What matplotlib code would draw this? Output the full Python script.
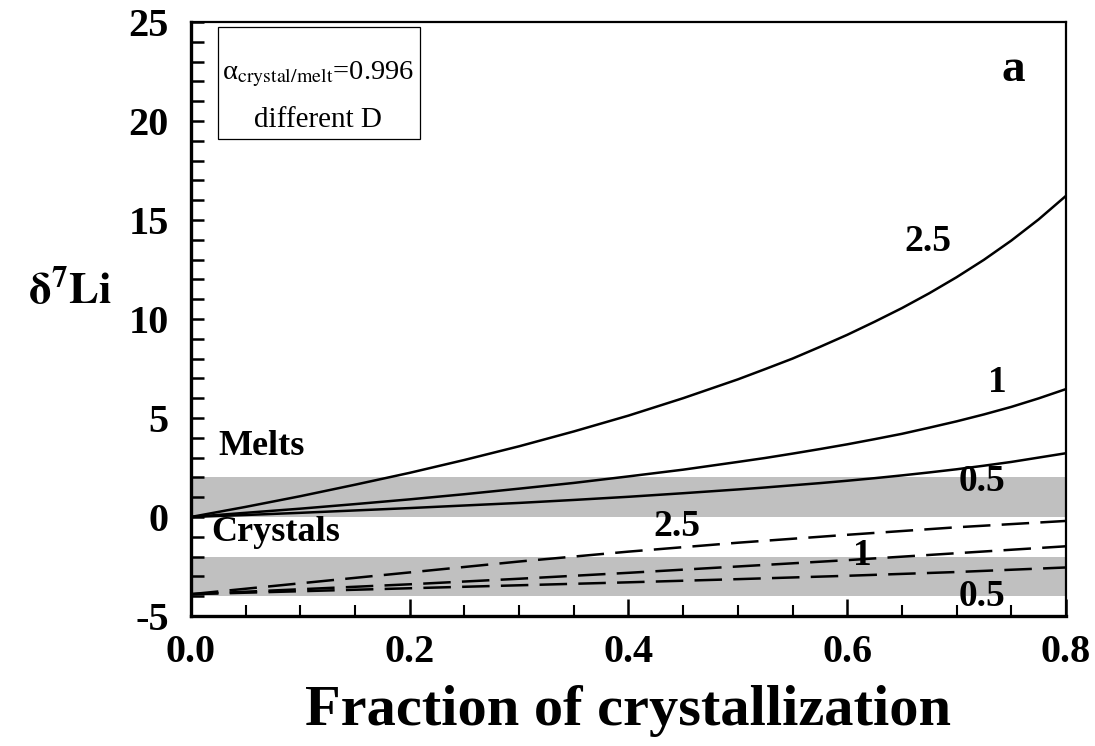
import matplotlib
matplotlib.use("Agg")
import matplotlib.pyplot as plt
from matplotlib.patches import Rectangle
from matplotlib.ticker import MultipleLocator

plt.rcParams["font.family"] = ["Liberation Serif", "DejaVu Serif"]
plt.rcParams["mathtext.fontset"] = "stix"

# fraction of crystallization (melt curves)
F_MELT = [0.0, 0.05, 0.10, 0.15, 0.20, 0.25, 0.30, 0.35, 0.40, 0.45, 0.50,
          0.525, 0.55, 0.575, 0.60, 0.625, 0.65, 0.675, 0.70, 0.725, 0.75,
          0.775, 0.80]
MELT_D25 = [0.0, 0.51, 1.05, 1.63, 2.23, 2.88, 3.57, 4.32, 5.12, 6.00, 6.95,
            7.47, 8.00, 8.59, 9.20, 9.86, 10.55, 11.30, 12.11, 12.99, 13.96,
            15.03, 16.22]
MELT_D1 = [0.0, 0.21, 0.42, 0.65, 0.89, 1.15, 1.43, 1.72, 2.05, 2.39, 2.78,
           2.98, 3.20, 3.43, 3.67, 3.93, 4.20, 4.51, 4.83, 5.18, 5.56,
           5.99, 6.46]
MELT_D05 = [0.0, 0.10, 0.21, 0.33, 0.45, 0.58, 0.71, 0.86, 1.02, 1.20, 1.39,
            1.49, 1.60, 1.71, 1.83, 1.96, 2.10, 2.25, 2.41, 2.59, 2.78,
            3.00, 3.22]

# crystal curves
F_CRYST = [0.0, 0.1, 0.2, 0.3, 0.4, 0.5, 0.6, 0.7, 0.8]
CRYST_D25 = [-3.9, -3.35, -2.8, -2.25, -1.75, -1.3, -0.9, -0.52, -0.2]
CRYST_D1 = [-3.9, -3.65, -3.4, -3.12, -2.82, -2.5, -2.18, -1.83, -1.48]
CRYST_D05 = [-3.9, -3.75, -3.6, -3.45, -3.3, -3.14, -2.97, -2.78, -2.55]

MELT_BAND = (0, 2)
CRYST_BAND = (-4, -2)

fig = plt.figure(figsize=(10.95, 7.46), dpi=100)
ax = fig.add_axes([0.1744, 0.1743, 0.7991, 0.7962])

ax.axhspan(*MELT_BAND, color="#c0c0c0", lw=0, zorder=1)
ax.axhspan(*CRYST_BAND, color="#c0c0c0", lw=0, zorder=1)

for ys in (MELT_D25, MELT_D1, MELT_D05):
    ax.plot(F_MELT, ys, color="black", lw=1.8, zorder=3)
for ys in (CRYST_D25, CRYST_D1, CRYST_D05):
    ax.plot(F_CRYST, ys, color="black", lw=1.8, dashes=(11, 4.5), zorder=3)

lab = dict(fontsize=27, fontweight="bold", ha="center", va="center", zorder=4)
ax.text(0.674, 13.9, "2.5", **lab)
ax.text(0.737, 6.8, "1", **lab)
ax.text(0.723, 1.77, "0.5", **lab)
ax.text(0.444, -0.5, "2.5", **lab)
ax.text(0.614, -1.97, "1", **lab)
ax.text(0.723, -4.0, "0.5", **lab)

ax.text(0.025, 3.55, "Melts", fontsize=26, fontweight="bold", ha="left", va="center")
ax.text(0.019, -0.8, "Crystals", fontsize=26, fontweight="bold", ha="left", va="center")
ax.text(0.752, 22.6, "a", fontsize=34, fontweight="bold", ha="center", va="center")

# annotation box
ax.add_patch(Rectangle((0.0245, 19.1), 0.1845, 5.65, fill=False, ec="black",
                       lw=0.9, zorder=4))
ax.text(0.1165, 22.35, r"α$_{\mathrm{crystal/melt}}$=0.996", fontsize=20.5,
        ha="center", va="center")
ax.text(0.1165, 20.05, "different D", fontsize=21, ha="center", va="center")

ax.set_xlim(0, 0.8)
ax.set_ylim(-5, 25)
ax.xaxis.set_major_locator(MultipleLocator(0.2))
ax.xaxis.set_minor_locator(MultipleLocator(0.05))
ax.yaxis.set_major_locator(MultipleLocator(5))
ax.yaxis.set_minor_locator(MultipleLocator(1))
ax.xaxis.set_major_formatter(plt.FuncFormatter(lambda v, _: f"{v:.1f}"))
ax.yaxis.set_major_formatter(plt.FuncFormatter(lambda v, _: f"{v:.0f}"))

ax.tick_params(axis="both", which="both", direction="in", top=False, right=False,
               labelsize=29)
ax.tick_params(axis="x", which="major", length=12, width=1.8, pad=13)
ax.tick_params(axis="x", which="minor", length=8, width=1.5)
ax.tick_params(axis="y", which="both", length=9, width=1.8, pad=16)
for t in ax.get_xticklabels() + ax.get_yticklabels():
    t.set_fontweight("bold")

ax.spines["left"].set_linewidth(2.4)
ax.spines["bottom"].set_linewidth(2.4)
ax.spines["top"].set_linewidth(1.6)
ax.spines["right"].set_linewidth(1.6)

ax.set_xlabel("Fraction of crystallization", fontsize=42, fontweight="bold", labelpad=10)
fig.text(0.064, 0.61, r"$\mathbf{\delta^{7}Li}$", fontsize=32, ha="center", va="center")

fig.savefig("out.png", dpi=100, facecolor="white")
